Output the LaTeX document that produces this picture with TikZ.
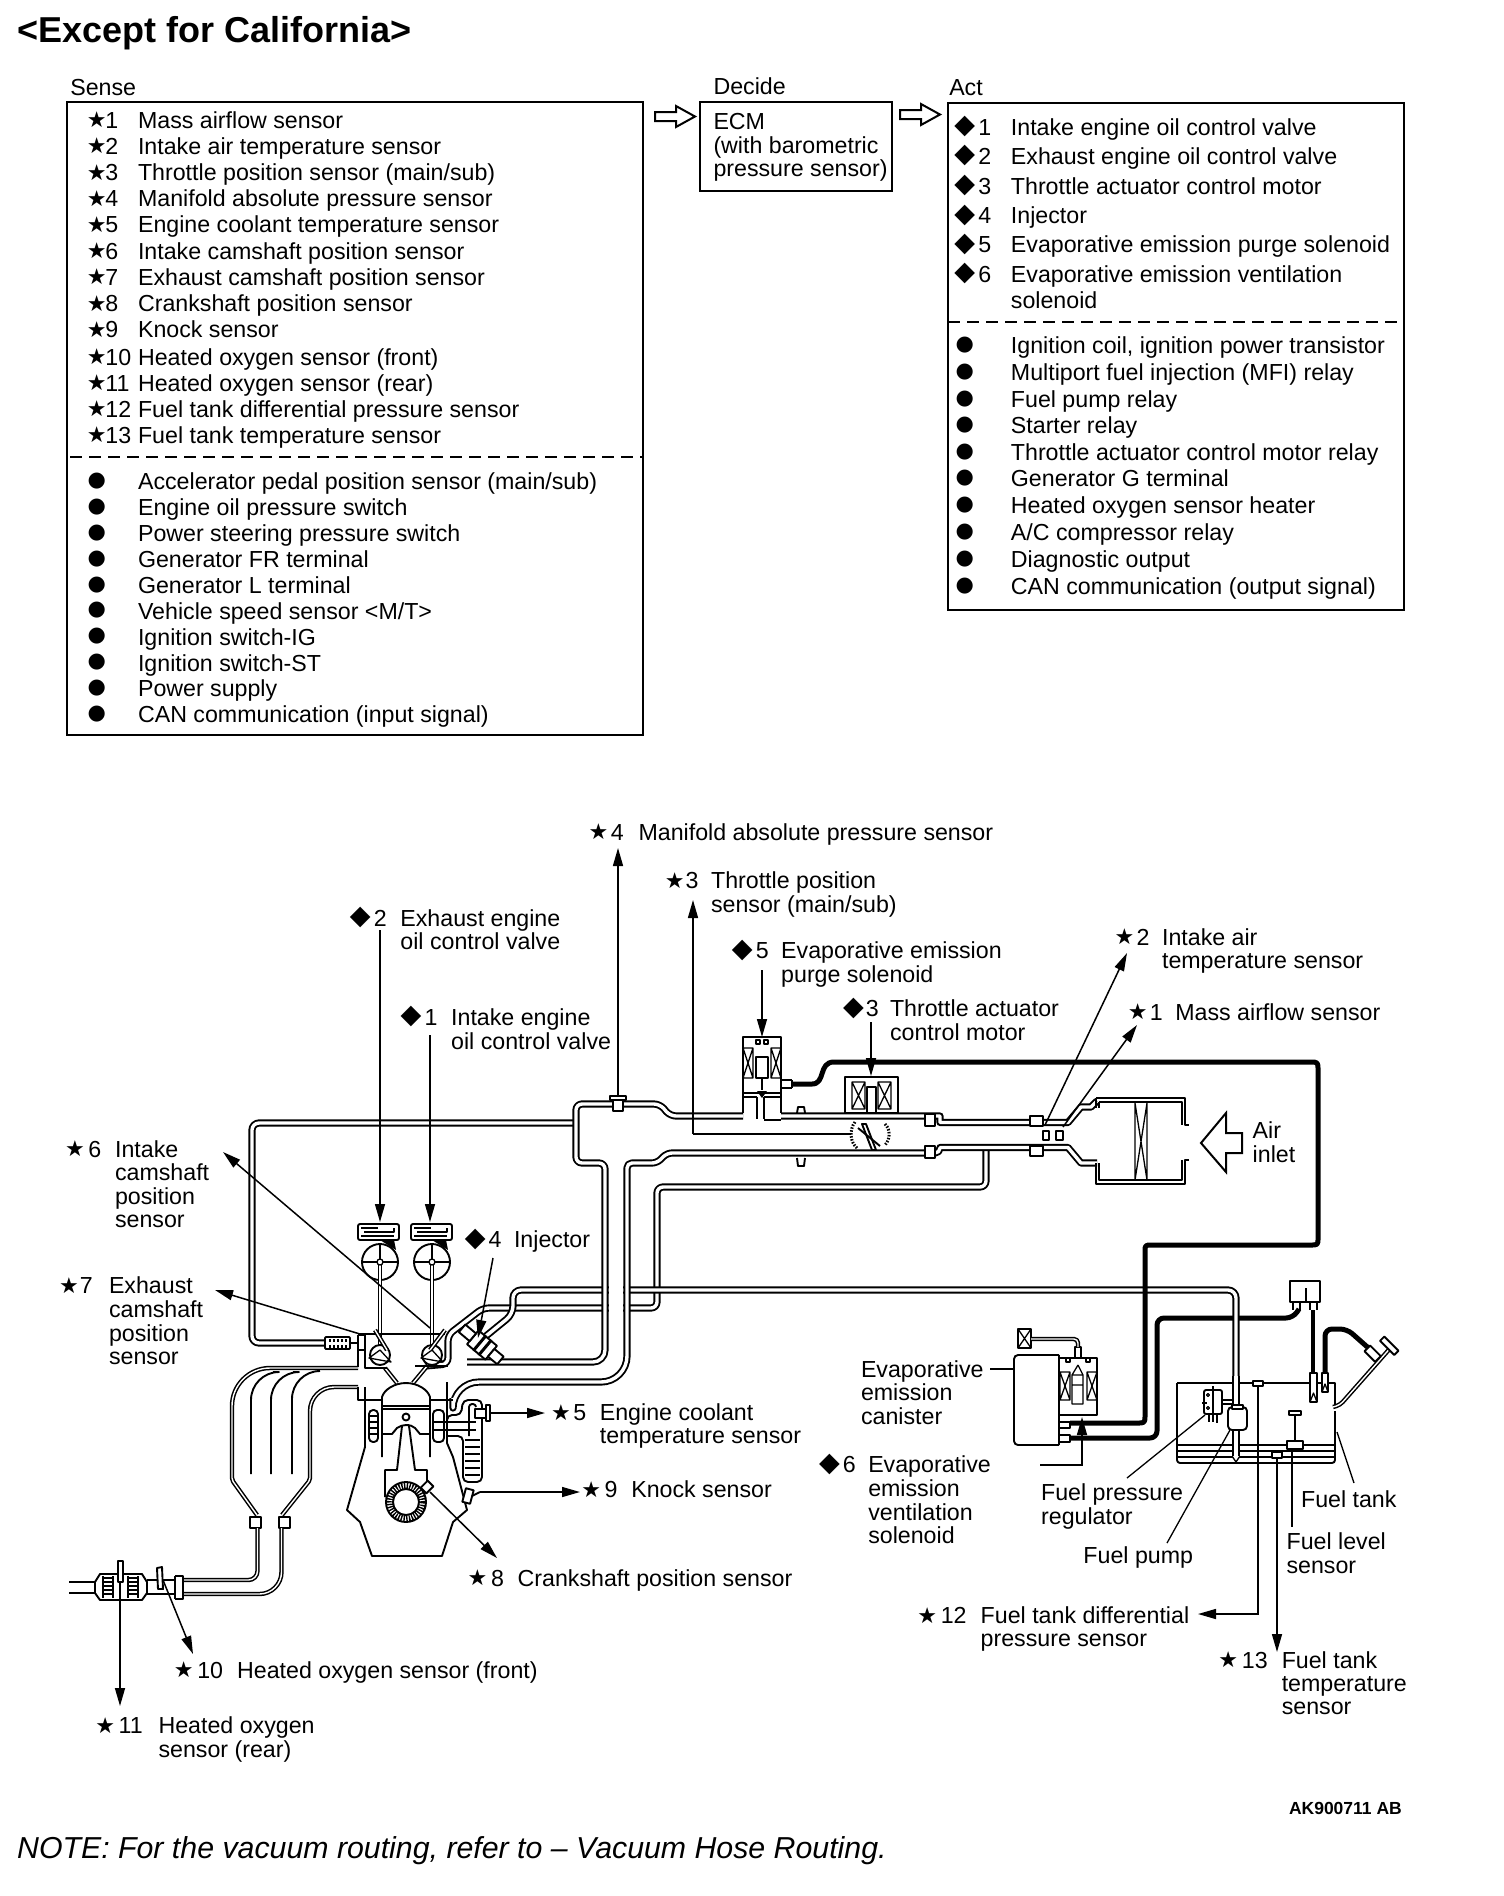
\documentclass[tikz,border=0pt]{standalone}
\usepackage{fontspec}
\setmainfont{Liberation Sans}
\newfontfamily\symf{DejaVu Sans}
\usetikzlibrary{arrows.meta}
\newcommand{\St}{{\symf\fontsize{22}{22}\selectfont ★}}
\newcommand{\Dm}{{\symf\fontsize{27}{27}\selectfont ◆}}
\newcommand{\Bl}{{\symf\fontsize{21}{21}\selectfont ●}}
\newcommand{\ttt}[1]{\begin{tabular}[t]{@{}l@{}}#1\end{tabular}}
% id, symbol, symbol x, number x, text x, y, number, text  (reference-preview units)
\newcommand{\rw}[8]{%
  \node[mrk] (#1s) at (#3,#6) {#2};
  \node[lbl] (#1n) at ({#4},{#6+7}) {#7};
  \node[lbl] (#1) at ({#5},{#6+7}) {\ttt{#8}};}
\newcommand{\tx}[4]{\node[lbl] (#1) at ({#2},{#3+7}) {\ttt{#4}};}
\tikzset{
  lbl/.style={anchor=base west,inner sep=0pt,font=\fontsize{23.2}{23.2}\selectfont},
  mrk/.style={anchor=center,inner sep=0pt},
  pipe/.style={draw=black,line width=1.9pt,double=white,double distance=3.4pt,line join=round},
  fine/.style={draw=black,line width=1.5pt,double=white,double distance=1.4pt,line join=round},
  ln/.style={draw=black,line width=1.9pt,line join=round},
  hair/.style={draw=black,line width=1.3pt,line join=round},
  thick hose/.style={draw=black,line width=5pt,line join=round,rounded corners=7pt},
  ldr/.style={draw=black,line width=1.5pt,-{Triangle[length=18pt,width=10pt]}},
  boxed/.style={draw=black,line width=2.2pt},
  hollow/.style={draw=black,line width=2pt,fill=white,line join=miter},
}
\begin{document}
\begin{tikzpicture}[x=1pt,y=-1pt]
\useasboundingbox (0,0) rectangle (1504,1896);
% ---------- upper boxes
\coordinate (senseTL) at (67,102); \coordinate (senseBR) at (643,735);
\coordinate (decTL) at (700,102); \coordinate (decBR) at (892,191);
\coordinate (actTL) at (948,103); \coordinate (actBR) at (1404,610);
\draw[boxed] (senseTL) rectangle (senseBR);
\draw[boxed] (decTL) rectangle (decBR);
\draw[boxed] (actTL) rectangle (actBR);
\draw[line width=2.2pt,dash pattern=on 12pt off 7pt] (70,457) -- (643,457);
\draw[line width=2.2pt,dash pattern=on 12pt off 7pt] (948,322) -- (1404,322);
\draw[hollow] (655,112)--(676,112)--(676,106)--(695,116.5)--(676,127)--(676,121)--(655,121)--cycle;
\draw[hollow] (900,110)--(921,110)--(921,104)--(940,114.5)--(921,125)--(921,119)--(900,119)--cycle;
% ---------- text, in preview units
\begin{scope}[x=1.209pt,y=-1.209pt]
\node[anchor=base west,inner sep=0pt,font=\bfseries\fontsize{36}{36}\selectfont] (title) at (14,35) {<Except for California>};
\tx{hs}{58}{72}{Sense}
\tx{hd}{590}{71}{Decide}
\tx{ha}{785}{72}{Act}
\tx{ecm}{590}{100}{ECM\\(with barometric\\pressure sensor)}
\rw{a1}{\St}{80}{87}{114}{99}{1}{Mass airflow sensor}
\rw{a2}{\St}{80}{87}{114}{120.5}{2}{Intake air temperature sensor}
\rw{a3}{\St}{80}{87}{114}{142.5}{3}{Throttle position sensor (main/sub)}
\rw{a4}{\St}{80}{87}{114}{164}{4}{Manifold absolute pressure sensor}
\rw{a5}{\St}{80}{87}{114}{185.5}{5}{Engine coolant temperature sensor}
\rw{a6}{\St}{80}{87}{114}{207.5}{6}{Intake camshaft position sensor}
\rw{a7}{\St}{80}{87}{114}{229}{7}{Exhaust camshaft position sensor}
\rw{a8}{\St}{80}{87}{114}{251}{8}{Crankshaft position sensor}
\rw{a9}{\St}{80}{87}{114}{272.5}{9}{Knock sensor}
\rw{a10}{\St}{80}{87}{114}{295}{10}{Heated oxygen sensor (front)}
\rw{a11}{\St}{80}{87}{114}{316.5}{11}{Heated oxygen sensor (rear)}
\rw{a12}{\St}{80}{87}{114}{338}{12}{Fuel tank differential pressure sensor}
\rw{a13}{\St}{80}{87}{114}{359.5}{13}{Fuel tank temperature sensor}
\rw{b1}{\Bl}{80}{114}{114}{398}{}{Accelerator pedal position sensor (main/sub)}
\rw{b2}{\Bl}{80}{114}{114}{419.5}{}{Engine oil pressure switch}
\rw{b3}{\Bl}{80}{114}{114}{441}{}{Power steering pressure switch}
\rw{b4}{\Bl}{80}{114}{114}{462.5}{}{Generator FR terminal}
\rw{b5}{\Bl}{80}{114}{114}{484}{}{Generator L terminal}
\rw{b6}{\Bl}{80}{114}{114}{505}{}{Vehicle speed sensor <M/T>}
\rw{b7}{\Bl}{80}{114}{114}{526.5}{}{Ignition switch-IG}
\rw{b8}{\Bl}{80}{114}{114}{548}{}{Ignition switch-ST}
\rw{b9}{\Bl}{80}{114}{114}{569.5}{}{Power supply}
\rw{b10}{\Bl}{80}{114}{114}{591}{}{CAN communication (input signal)}
\rw{c1}{\Dm}{798}{809}{836}{105}{1}{Intake engine oil control valve}
\rw{c2}{\Dm}{798}{809}{836}{129}{2}{Exhaust engine oil control valve}
\rw{c3}{\Dm}{798}{809}{836}{153.5}{3}{Throttle actuator control motor}
\rw{c4}{\Dm}{798}{809}{836}{178}{4}{Injector}
\rw{c5}{\Dm}{798}{809}{836}{202}{5}{Evaporative emission purge solenoid}
\rw{c6}{\Dm}{798}{809}{836}{226.5}{6}{Evaporative emission ventilation\\[2pt]solenoid}
\rw{d1}{\Bl}{798}{836}{836}{285}{}{Ignition coil, ignition power transistor}
\rw{d2}{\Bl}{798}{836}{836}{307.5}{}{Multiport fuel injection (MFI) relay}
\rw{d3}{\Bl}{798}{836}{836}{330}{}{Fuel pump relay}
\rw{d4}{\Bl}{798}{836}{836}{351.5}{}{Starter relay}
\rw{d5}{\Bl}{798}{836}{836}{373.5}{}{Throttle actuator control motor relay}
\rw{d6}{\Bl}{798}{836}{836}{395.5}{}{Generator G terminal}
\rw{d7}{\Bl}{798}{836}{836}{418}{}{Heated oxygen sensor heater}
\rw{d8}{\Bl}{798}{836}{836}{440}{}{A/C compressor relay}
\rw{d9}{\Bl}{798}{836}{836}{462}{}{Diagnostic output}
\rw{d10}{\Bl}{798}{836}{836}{484.5}{}{CAN communication (output signal)}
% diagram labels
\rw{l4}{\St}{495}{505}{528}{688}{4}{Manifold absolute pressure sensor}
\rw{l3}{\St}{558}{567}{588}{728}{3}{Throttle position\\sensor (main/sub)}
\rw{m2}{\Dm}{298}{309}{331}{759}{2}{Exhaust engine\\oil control valve}
\rw{m1}{\Dm}{340}{351}{373}{841}{1}{Intake engine\\oil control valve}
\rw{m5}{\Dm}{614}{625}{646}{786}{5}{Evaporative emission\\purge solenoid}
\rw{m3}{\Dm}{706}{716}{736}{834}{3}{Throttle actuator\\control motor}
\rw{l2}{\St}{930}{940}{961}{775}{2}{Intake air\\temperature sensor}
\rw{l1}{\St}{941}{951}{972}{837}{1}{Mass airflow sensor}
\rw{l6}{\St}{62}{73}{95}{950}{6}{Intake\\camshaft\\position\\sensor}
\rw{l7}{\St}{57}{66}{90}{1063}{7}{Exhaust\\camshaft\\position\\sensor}
\rw{m4}{\Dm}{393}{404}{425}{1025}{4}{Injector}
\rw{l5}{\St}{464}{474}{496}{1168}{5}{Engine coolant\\temperature sensor}
\rw{l9}{\St}{489}{500}{522}{1232}{9}{Knock sensor}
\rw{l8}{\St}{395}{406}{428}{1305}{8}{Crankshaft position sensor}
\rw{l10}{\St}{152}{163}{196}{1381}{10}{Heated oxygen sensor (front)}
\rw{l11}{\St}{87}{98}{131}{1427}{11}{Heated oxygen\\sensor (rear)}
\rw{l12}{\St}{767}{778}{811}{1336}{12}{Fuel tank differential\\pressure sensor}
\rw{l13}{\St}{1016}{1027}{1060}{1373}{13}{Fuel tank\\temperature\\sensor}
\rw{m6}{\Dm}{686}{697}{718}{1211}{6}{Evaporative\\emission\\ventilation\\solenoid}
\tx{air}{1036}{935}{Air\\inlet}
\tx{can}{712}{1132}{Evaporative\\emission\\canister}
\tx{fpr}{861}{1234}{Fuel pressure\\regulator}
\tx{fpu}{896}{1286}{Fuel pump}
\tx{ftk}{1076}{1240}{Fuel tank}
\tx{fls}{1064}{1275}{Fuel level\\sensor}
\node[anchor=base west,inner sep=0pt,font=\bfseries\fontsize{17.5}{17.5}\selectfont] (code) at (1066,1501) {AK900711 AB};
\node[anchor=base west,inner sep=0pt,font=\itshape\fontsize{30.3}{30.3}\selectfont] (note) at (14,1537) {NOTE: For the vacuum routing, refer to -- Vacuum Hose Routing.};
\end{scope}
% ---------- diagram, full-size pixel units
% hose to the exhaust-side sensor and the chamber
\draw[pipe,rounded corners=7pt] (576,1123)--(252,1123)--(252,1343)--(325,1343);
% vacuum hose under the throttle, over the tube
\draw[pipe,rounded corners=6pt] (986,1146)--(986,1187)--(657,1187)--(657,1308)--(483,1308)--(448,1335)--(448,1364)--(425,1366);
% second thick hose (under fuel line)
\draw[thick hose] (1070,1438)--(1157,1438)--(1157,1318)--(1293,1318)--(1299,1309);
% fuel hose
\draw[pipe,rounded corners=8pt] (486,1336)--(513,1314)--(513,1290)--(1236,1290)--(1236,1458);
\fill[white] (609,1280) rectangle (623,1316);
% walls of the intake tract
\draw[pipe,rounded corners=6pt] (467,1362)[rounded corners=12pt]--(605,1362)[rounded corners=6pt]--(605,1163)--(576,1163)--(576,1104)--(660,1104)--(670,1116)--(743,1116);
\draw[pipe,rounded corners=26pt] (453,1398)--(453,1382)--(627,1382)[rounded corners=5pt]--(627,1163)--(657,1163)--(667,1153)--(940,1153)[sharp corners]--(940,1147.5)--(1068,1147.5)--(1081,1163)--(1097,1163);
\draw[pipe] (781,1116)--(940,1116)--(940,1122.5)--(1068,1122.5)--(1081,1107)--(1091,1107)--(1097,1101);
\draw[ln] (764,1120)--(781,1120);
% manifold sensor boss
\draw[ln,fill=white] (610,1096) rectangle (626,1100);
\draw[ln,fill=white] (613,1100) rectangle (623,1111);
% flanges, nipples
\foreach \a/\b/\c/\d in {925/1114/935/1126,925/1146/935/1158,1030/1116/1043/1126,1030/1146/1043/1156,1043/1131/1049/1140,1056/1131/1063/1140}{\draw[ln,fill=white] (\a,\b) rectangle (\c,\d);}
\draw[ln] (797,1113)--(798,1107)--(804,1107)--(805,1113) (797,1158)--(798,1166)--(804,1166)--(805,1158);
% purge solenoid
\draw[ln,fill=white] (743,1037) rectangle (781,1093);
\draw[ln] (743,1093)--(743,1113) (781,1093)--(781,1113) (757,1097)--(757,1119) (764,1097)--(764,1119);
\draw[ln] (743,1097)--(757,1097) (764,1097)--(781,1097);
\foreach \a in {743,771}{\draw[hair] (\a,1048) rectangle +(10,30) (\a,1048)--+(10,30) (\a+10,1048)--+(-10,30);}
\draw[hair] (756,1057) rectangle (768,1078) (762,1078)--(762,1090);
\draw[hair] (756,1040) rectangle (760,1044) (764,1040) rectangle (768,1044);
\fill (757,1091)--(767,1091)--(762,1098)--cycle;
\draw[ln] (781,1080)--(792,1080) (781,1088)--(792,1088) (792,1080)--(792,1088);
% throttle
\draw[line width=3pt,dash pattern=on 1.5pt off 1.5pt] (855,1122) .. controls (849,1130) and (850,1142) .. (857,1148);
\draw[line width=3pt,dash pattern=on 1.5pt off 1.5pt] (885,1124) .. controls (891,1130) and (890,1140) .. (885,1145);
\draw[ln] (862,1124)--(872,1150)--(876,1150)--(866,1124)--cycle;
\draw[ln] (858,1128)--(880,1146);
\draw[hair] (693,1134) -- (851,1134);
% throttle actuator
\draw[ln,fill=white] (845,1077) rectangle (898,1113);
\foreach \a in {852,878}{\draw[hair] (\a,1082) rectangle +(13,27) (\a,1082)--+(13,27) (\a+13,1082)--+(-13,27);}
\draw[hair] (867,1087) rectangle (876,1113);
% thick hose to purge solenoid
\draw[draw=black,line width=5pt,line join=round] (792,1084)--(812,1084) .. controls (826,1084) and (818,1062) .. (834,1062)--(1310,1062) .. controls (1318,1062) and (1318,1062) .. (1318,1070)--(1318,1238) .. controls (1318,1245) and (1318,1245) .. (1310,1245)--(1152,1245) .. controls (1145,1245) and (1145,1245) .. (1145,1252)--(1145,1415) .. controls (1145,1423) and (1145,1423) .. (1137,1423)--(1070,1423);
% air cleaner
\draw[ln] (1096,1098)--(1185,1098)--(1185,1125)--(1189,1125);
\draw[ln] (1099,1102)--(1182,1102)--(1182,1125);
\draw[ln] (1096,1098)--(1096,1108) (1099,1102)--(1099,1108);
\draw[ln] (1096,1163)--(1096,1184)--(1185,1184)--(1185,1160)--(1189,1160);
\draw[ln] (1099,1163)--(1099,1180)--(1182,1180)--(1182,1160);
\draw[hair] (1135,1103)--(1147,1180) (1147,1103)--(1135,1180) (1135,1103)--(1135,1180) (1147,1103)--(1147,1180);
\draw[hollow] (1201,1143)--(1226,1113)--(1226,1133)--(1242,1133)--(1242,1153)--(1226,1153)--(1226,1172)--cycle;
% cylinder head and camshafts
\foreach \cx/\bx in {380/358,432/411}{
  \draw[ln,fill=white,rounded corners=2pt] (\bx,1224) rectangle +(41,16);
  \draw[hair] (\bx+6,1232)--(\bx+36,1232)--(\bx+36,1228) (\bx+3,1228)--(\bx+20,1228) (\bx+3,1236)--(\bx+36,1236);
  \fill (\cx,1240)--(\cx+14,1240)--(\cx+16,1250)--cycle;
  \draw[ln,fill=white] (\cx,1262) circle (18);
  \draw[hair] (\cx-18,1262)--(\cx+18,1262) (\cx,1244)--(\cx,1280);
  \draw[fine] (\cx,1262)--(\cx,1346);
  \draw[hair,fill=white] (\cx,1262) circle (3);
  \draw[ln,fill=white] (\cx,1355) circle (10);
  \draw[hair] (\cx-11,1358)--(\cx,1350)--(\cx+11,1362)--cycle;
}
\draw[hair] (360,1334)--(445,1334);
\draw[fine] (375,1330)--(387,1350);
\draw[fine] (445,1330)--(430,1350);
\draw[fine] (385,1368)--(397,1383);
\draw[fine] (428,1365)--(413,1383);
\draw[ln] (358,1335)--(365,1335)--(365,1368)--(387,1368) (358,1335)--(358,1367);
\draw[ln] (415,1366)--(448,1366);
\draw[ln] (350,1343)--(358,1343) (358,1350)--(365,1350);
\draw[ln,fill=white,rounded corners=1pt] (325,1337) rectangle (350,1349);
\draw[line width=3pt,dash pattern=on 2pt off 2pt] (329,1340)--(347,1340) (329,1346)--(347,1346);
% injector
\begin{scope}[shift={(482,1345)},rotate=-40]
\draw[ln,fill=white] (-12,-9) rectangle (12,9);
\draw[ln,fill=white] (-26,-5) rectangle (-12,5);
\draw[ln,fill=white] (12,-5) rectangle (24,5);
\draw[line width=3pt] (-3,-10)--(-3,10) (4,-10)--(4,10);
\end{scope}
% exhaust manifold
\draw[fine,rounded corners=38pt] (358,1368)--(232,1368)[rounded corners=2pt]--(232,1480)--(257,1515);
\draw[fine,rounded corners=24pt] (358,1387)--(310,1387)[rounded corners=2pt]--(310,1480)--(282,1515);
\draw[ln,rounded corners=28pt] (320,1371)--(292,1371)--(292,1474);
\draw[ln,rounded corners=28pt] (293,1372)--(271,1372)--(271,1474);
\draw[ln,rounded corners=28pt] (273,1372)--(251,1372)--(251,1474);
\draw[ln] (358,1387)--(358,1400)--(382,1400) (430,1400)--(453,1400);
\foreach \a in {250,279}{\draw[ln,fill=white] (\a,1517) rectangle +(11,11);}
\draw[fine,rounded corners=9pt] (257.5,1528)--(257.5,1580)--(183,1580);
\draw[fine,rounded corners=22pt] (281.5,1528)--(281.5,1594)--(183,1594);
\draw[ln] (175,1576)--(183,1576)--(183,1599)--(175,1599) (175,1576)--(175,1599);
\draw[ln] (147,1580)--(175,1580) (147,1594)--(175,1594);
% catalyst and sensors
\draw[ln,fill=white] (95,1582)--(100,1574)--(142,1574)--(147,1582)--(147,1593)--(142,1600)--(100,1600)--(95,1593)--cycle;
\draw[ln] (69,1582)--(95,1582) (69,1593)--(95,1593);
\foreach \a in {1578,1582,...,1597}{\draw[hair] (103,\a)--(113,\a) (128,\a)--(138,\a);}
\draw[ln] (103,1576)--(103,1598) (113,1576)--(113,1598) (128,1576)--(128,1598) (138,1576)--(138,1598);
\draw[ln,fill=white] (118,1561) rectangle (123,1582);
\draw[ln,fill=white] (157,1568)--(162,1567)--(163,1589)--(158,1589)--cycle;
% engine block
\draw[ln] (365,1387)--(365,1447)--(347,1510)--(360,1522)--(372,1556)--(442,1556)--(453,1522)--(467,1510)--(453,1457)--(447,1443)--(447,1382);
\draw[ln] (382,1457)--(382,1397) .. controls (384,1390) and (394,1383) .. (406,1383) .. controls (418,1383) and (428,1390) .. (430,1397)--(430,1457);
\draw[ln] (382,1406)--(430,1406) (382,1409)--(430,1409);
\draw[ln] (382,1434)--(392,1434)--(397,1428) .. controls (400,1426) and (403,1425) .. (406,1425) .. controls (410,1425) and (413,1426) .. (415,1428)--(420,1434)--(430,1434);
\draw[ln,fill=white] (406,1417) circle (3.5);
\draw[ln] (402,1426)--(397,1470)--(385,1470)--(385,1497) (409,1426)--(415,1470)--(427,1470)--(427,1487);
\draw[line width=7pt,dash pattern=on 1.4pt off 1.3pt] (406,1502) circle (16.5);
\draw[ln] (406,1502) circle (13);
\draw[ln] (406,1502) circle (20);
\draw[ln,fill=white,rotate around={45:(427,1487)}] (422,1483) rectangle (432,1491);
% water jackets, coolant sensor, knock sensor
\draw[ln,fill=white,rounded corners=4pt] (369,1410) rectangle (378,1442);
\draw[ln,fill=white,rounded corners=4pt] (433,1410) rectangle (444,1442);
\foreach \a in {1416,1422,...,1438}{\draw[hair] (369,\a)--(378,\a);}
\draw[ln,rounded corners=5pt] (447,1420)--(447,1415)--(461,1415)--(463,1400)--(482,1400)--(482,1482)--(463,1482)--(463,1436)--(447,1436);
\draw[ln] (433,1422)--(476,1422) (433,1430)--(476,1430);
\foreach \a in {1440,1447,...,1476}{\draw[hair] (465,\a)--(480,\a);}
\draw[ln,rounded corners=3pt] (469,1436)--(469,1404)--(476,1404)--(476,1407);
\draw[ln,fill=white] (475,1409) rectangle (486,1418);
\draw[ln,fill=white] (486,1405) rectangle (490,1421);
\draw[ln,fill=white,rotate around={-15:(468,1496)}] (464,1489) rectangle (472,1503);
\draw[ln] (472,1496)--(480,1492);
% canister and ventilation solenoid
\draw[ln,rounded corners=4pt] (1059,1355)--(1014,1355)--(1014,1445)--(1059,1445);
\draw[ln] (1059,1355)--(1059,1360) (1059,1445)--(1059,1442);
\draw[ln,fill=white] (1059,1358) rectangle (1097,1415);
\draw[ln] (1059,1422)--(1070,1422)--(1070,1428)--(1059,1428) (1059,1435)--(1070,1435)--(1070,1442)--(1059,1442) (1059,1415)--(1059,1445);
\foreach \a in {1060,1087}{\draw[hair] (\a,1372) rectangle +(10,28) (\a,1372)--+(10,28) (\a+10,1372)--+(-10,28);}
\draw[hair] (1072,1385) rectangle (1083,1404) (1072,1385)--(1072,1375)--(1083,1375)--(1083,1385) (1078,1365)--(1072,1375) (1078,1365)--(1083,1375);
\draw[ln,fill=white] (1075,1347) rectangle (1081,1358);
\draw[hair] (1066,1358) rectangle (1070,1362) (1086,1358) rectangle (1090,1362);
\draw[ln,fill=white] (1018,1329) rectangle (1031,1348);
\draw[hair] (1018,1329)--(1031,1348) (1031,1329)--(1018,1348);
\draw[fine,rounded corners=4pt] (1031,1339)--(1078,1339)--(1078,1347);
% tank side
\draw[ln,fill=white] (1290,1281) rectangle (1320,1302);
\draw[ln] (1306,1288)--(1306,1302) (1293,1302)--(1293,1310) (1300,1302)--(1300,1310) (1310,1302)--(1310,1310) (1317,1302)--(1317,1310);
\draw[draw=black,line width=3.2pt] (1313,1310)--(1313,1373);
\draw[thick hose] (1325,1373)--(1325,1329)--(1347,1329)--(1373,1352);
\draw[ln,rounded corners=3pt] (1177,1383)--(1177,1463)--(1335,1463)--(1335,1411);
\draw[ln] (1335,1405)--(1335,1383)--(1177,1383);
\foreach \a in {1445,1451,1457}{\draw[ln] (1177,\a)--(1335,\a);}
\draw[pipe] (1236,1376)--(1236,1458);
\draw[hair,fill=white] (1232,1456)--(1236,1462)--(1240,1456);
\draw[fine,rounded corners=4pt] (1333,1407)--(1340,1405)--(1393,1345);
\draw[ln,fill=white,rotate around={-45:(1390,1345)}] (1380,1343) rectangle (1400,1349);
\draw[ln,fill=white,rotate around={-45:(1373,1354)}] (1365,1350) rectangle (1380,1358);
\draw[ln,fill=white] (1310,1373) rectangle (1317,1402);
\draw[ln,fill=white] (1322,1373) rectangle (1328,1392);
\draw[hair] (1310,1402)--(1313.5,1393)--(1317,1402) (1322,1392)--(1325,1384)--(1328,1392);
\draw[ln,fill=white] (1253,1381) rectangle (1263,1386);
\draw[ln,fill=white] (1272,1452) rectangle (1282,1458);
\draw[ln,fill=white] (1287,1441) rectangle (1303,1449);
\draw[ln,fill=white] (1289,1411) rectangle (1301,1415);
\draw[ln] (1295,1415)--(1295,1441);
\draw[ln,rounded corners=2pt,fill=white] (1204,1390) rectangle (1222,1414);
\draw[ln] (1202,1403)--(1207,1403) (1213,1386)--(1213,1422) (1209,1414)--(1209,1422) (1217,1414)--(1217,1423);
\draw[hair] (1222,1400)--(1233,1400) (1222,1404)--(1233,1404);
\draw[hair,fill=white] (1208,1395) circle (1.5) (1208,1408) circle (1.5);
\draw[ln,fill=white,rounded corners=4pt] (1228,1407) rectangle (1247,1430);
\draw[ln,fill=white] (1232,1405) rectangle (1243,1409);
% leaders
\coordinate (p4a) at (618,1097); \coordinate (p4b) at (618,848);
\coordinate (p3c) at (693,1134); \coordinate (p3b) at (693,900);
\coordinate (q2a) at (380,930); \coordinate (q2b) at (380,1222);
\coordinate (q1a) at (430,1035); \coordinate (q1b) at (430,1222);
\coordinate (q5a) at (762,970); \coordinate (q5b) at (762,1037);
\coordinate (q3a) at (871,1022); \coordinate (q3b) at (871,1076);
\coordinate (p2a) at (1045,1125); \coordinate (p2b) at (1127,953);
\coordinate (p1a) at (1063,1127); \coordinate (p1b) at (1137,1025);
\coordinate (p6a) at (430,1328); \coordinate (p6b) at (223,1152);
\coordinate (p7a) at (360,1334); \coordinate (p7b) at (215,1290);
\coordinate (q4a) at (493,1258); \coordinate (q4b) at (478,1338);
\coordinate (p8a) at (430,1492); \coordinate (p8b) at (497,1558);
\coordinate (p5a) at (490,1413); \coordinate (p5b) at (545,1413);
\coordinate (p9a) at (480,1492); \coordinate (p9b) at (580,1492);
\coordinate (p10a) at (163,1580); \coordinate (p10b) at (193,1654);
\coordinate (p11a) at (120,1582); \coordinate (p11b) at (120,1706);
\coordinate (p12a) at (1258,1386); \coordinate (p12c) at (1258,1614); \coordinate (p12b) at (1198,1614);
\coordinate (p13a) at (1277,1458); \coordinate (p13b) at (1277,1652);
\coordinate (q6a) at (1040,1465); \coordinate (q6c) at (1082,1465); \coordinate (q6b) at (1082,1417);
\draw[ldr] (p4a)--(p4b);
\draw[ldr] (p3c)--(p3b);
\draw[ldr] (q2a)--(q2b);
\draw[ldr] (q1a)--(q1b);
\draw[ldr] (q5a)--(q5b);
\draw[ldr] (q3a)--(q3b);
\draw[ldr] (p2a)--(p2b);
\draw[ldr] (p1a)--(p1b);
\draw[ldr] (p6a)--(p6b);
\draw[ldr] (p7a)--(p7b);
\draw[ldr] (q4a)--(q4b);
\draw[ldr] (p8a)--(p8b);
\draw[ldr] (p5a)--(p5b);
\draw[ldr] (p9a)--(p9b);
\draw[ldr] (p10a)--(p10b);
\draw[ldr] (p11a)--(p11b);
\draw[ldr] (p12a)--(p12c)--(p12b);
\draw[ldr] (p13a)--(p13b);
\draw[ldr] (q6a)--(q6c)--(q6b);
% plain leader lines
\draw[hair] (990,1369)--(1014,1369);
\draw[hair] (1205,1415)--(1127,1478);
\draw[hair] (1230,1430)--(1167,1543);
\draw[hair] (1337,1432)--(1354,1483);
\draw[hair] (1292,1449)--(1292,1527);
\end{tikzpicture}
\end{document}
